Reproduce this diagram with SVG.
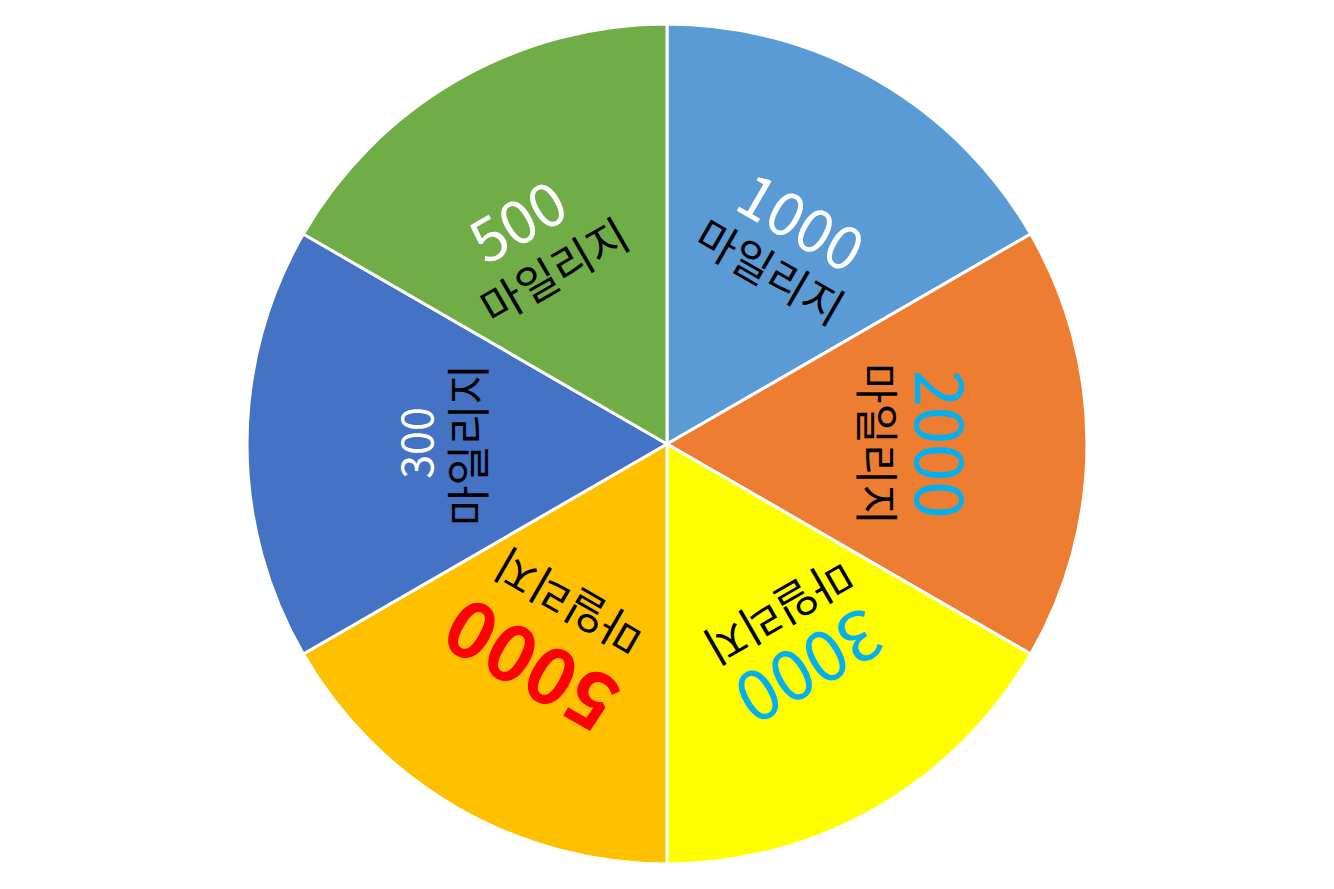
<svg xmlns="http://www.w3.org/2000/svg" width="1334" height="889" viewBox="0 0 1334 889">
<style>
.sl{stroke:#fff;stroke-width:3;stroke-linejoin:round}
text{font-family:"Noto Sans CJK KR","Noto Sans",sans-serif;text-anchor:middle}
.lb{font-size:44px;fill:#000}
.num{font-size:67px}
</style>
<rect width="1334" height="889" fill="#fff"/>
<g id="slice-1000">
<path class="sl" fill="#5B9BD5" d="M667,444 L667,24 A420,420 0 0 1 1030.7,234 Z"/>
<g transform="translate(667,444) rotate(30)">
<text class="num" x="5" y="-237" fill="#fff" style="font-size:60px">1000</text>
<text class="lb" x="3" y="-184">마일리지</text>
</g>
</g>
<g id="slice-2000">
<path class="sl" fill="#ED7D31" d="M667,444 L1030.7,234 A420,420 0 0 1 1030.7,654 Z"/>
<g transform="translate(667,444) rotate(90)">
<text class="num" x="0" y="-248" fill="#00B0F0">2000</text>
<text class="lb" x="0" y="-193">마일리지</text>
</g>
</g>
<g id="slice-3000">
<path class="sl" fill="#FFFF00" d="M667,444 L1030.7,654 A420,420 0 0 1 667,864 Z"/>
<g transform="translate(667,444) rotate(150)">
<text class="num" x="-12" y="-238" fill="#00B0F0" style="font-size:70px">3000</text>
<text class="lb" x="-13" y="-184">마일리지</text>
</g>
</g>
<g id="slice-5000">
<path class="sl" fill="#FFC000" d="M667,444 L667,864 A420,420 0 0 1 303.3,654 Z"/>
<g transform="translate(667,444) rotate(210)">
<text class="num" x="7" y="-231" fill="#FF0000" style="font-size:78px;font-weight:bold">5000</text>
<text class="lb" x="6" y="-169">마일리지</text>
</g>
</g>
<g id="slice-300">
<path class="sl" fill="#4472C4" d="M667,444 L303.3,654 A420,420 0 0 1 303.3,234 Z"/>
<g transform="translate(667,444) rotate(270)">
<text class="num" x="1" y="-234" fill="#fff" style="font-size:43px">300</text>
<text class="lb" x="-1" y="-182">마일리지</text>
</g>
</g>
<g id="slice-500">
<path class="sl" fill="#70AD47" d="M667,444 L303.3,234 A420,420 0 0 1 667,24 Z"/>
<g transform="translate(667,444) rotate(330)">
<text class="num" x="-18" y="-245" fill="#fff" style="font-size:60px">500</text>
<text class="lb" x="-11" y="-189">마일리지</text>
</g>
</g>
</svg>
